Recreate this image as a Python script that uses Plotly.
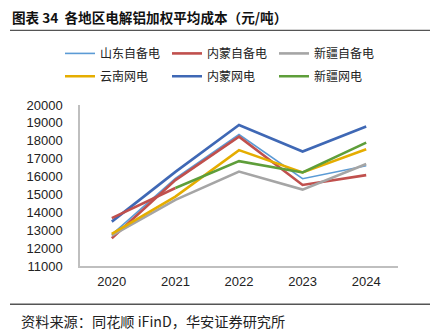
import plotly.graph_objects as go

# Weighted average cost of electrolytic aluminium by region (yuan / tonne)
years = ["2020", "2021", "2022", "2023", "2024"]

sd_self = [12750, 15900, 18350, 15880, 16600]   # 山东自备电
nm_self = [12550, 15800, 18230, 15530, 16080]   # 内蒙自备电
xj_self = [12700, 14700, 16280, 15270, 16700]   # 新疆自备电
yn_grid = [12800, 14880, 17480, 16230, 17530]   # 云南网电
nm_grid = [13480, 16260, 18880, 17400, 18800]   # 内蒙网电
xj_grid = [13680, 15360, 16860, 16230, 17900]   # 新疆网电

y_ticks = list(range(11000, 20001, 1000))

W, H = 433, 332
L, R, T, B = 80, 35, 104.5, 65.5
PW, PH = W - L - R, H - T - B

CJK = "Noto Sans CJK SC"
LAT = "Liberation Sans"


def px(x):
    return (x - L) / PW


def py(y):
    return (H - B - y) / PH


# (name, values, colour, width, legend row)
series = [
    ("山东自备电", sd_self, "#5B9BD5", 1.6, "legend"),
    ("内蒙自备电", nm_self, "#C0504D", 2.6, "legend"),
    ("新疆自备电", xj_self, "#A5A5A5", 2.6, "legend"),
    ("云南网电", yn_grid, "#E5AD00", 2.6, "legend2"),
    ("内蒙网电", nm_grid, "#3F68B5", 2.6, "legend2"),
]

fig = go.Figure()
for name, vals, color, w, lg in series:
    fig.add_trace(go.Scatter(
        x=years, y=vals, mode="lines", name=name, legend=lg,
        line=dict(color=color, width=w),
    ))

# 新疆网电: first segment drawn in red, remainder in green
fig.add_trace(go.Scatter(
    x=years[:2], y=xj_grid[:2], mode="lines", showlegend=False,
    line=dict(color="#C0504D", width=2.6),
))
fig.add_trace(go.Scatter(
    x=years[1:], y=xj_grid[1:], mode="lines", name="新疆网电", legend="legend2",
    line=dict(color="#5E9E3A", width=2.6),
))

legend_style = dict(
    orientation="h", xanchor="left", yanchor="top",
    entrywidth=62, entrywidthmode="pixels",
    font=dict(family=CJK, size=12, color="#222"),
    itemwidth=30, bgcolor="rgba(0,0,0,0)",
)

fig.update_layout(
    width=W, height=H,
    margin=dict(l=L, r=R, t=T, b=B),
    paper_bgcolor="white", plot_bgcolor="white",
    font=dict(family=CJK, size=12, color="#222"),
    legend=dict(x=px(60), y=py(38), **legend_style),
    legend2=dict(x=px(60), y=py(61), **legend_style),
    xaxis=dict(
        type="category", range=[-0.5, 4.5],
        showline=True, linecolor="#BFBFBF", linewidth=1.5,
        showgrid=False, ticks="", zeroline=False,
        ticklabelstandoff=3,
        tickfont=dict(family=LAT, size=13, color="#222"),
    ),
    yaxis=dict(
        range=[11000, 20000], tickvals=y_ticks, tickformat="d",
        showline=True, linecolor="#BFBFBF", linewidth=1.5,
        showgrid=False, ticks="", zeroline=False,
        ticklabelstandoff=13,
        tickfont=dict(family=LAT, size=13, color="#222"),
    ),
)

# title, rules and source note
fig.add_annotation(
    x=px(10), y=py(16), xref="paper", yref="paper", xanchor="left", yanchor="middle",
    text="<b>图表 34  各地区电解铝加权平均成本（元/吨）</b>", showarrow=False,
    font=dict(family=CJK, size=13.6, color="#111"),
)
fig.add_shape(type="line", xref="paper", yref="paper",
              x0=px(10), x1=px(430), y0=py(29.5), y1=py(29.5),
              line=dict(color="#555", width=1.3))
fig.add_shape(type="line", xref="paper", yref="paper",
              x0=px(10), x1=px(430), y0=py(305), y1=py(305),
              line=dict(color="#555", width=1.3))
fig.add_annotation(
    x=px(19), y=py(322), xref="paper", yref="paper", xanchor="left", yanchor="middle",
    text="资料来源：同花顺 iFinD，华安证券研究所", showarrow=False,
    font=dict(family=CJK, size=14.2, color="#222"),
)

fig.write_html("out.html")
